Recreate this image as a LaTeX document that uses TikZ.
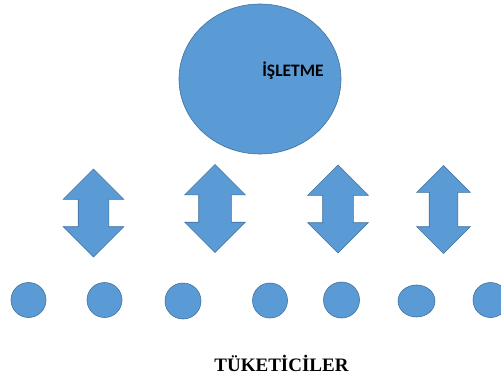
\documentclass[tikz,border=0pt]{standalone}
\usepackage{fontspec}
\setmainfont{Liberation Serif}
\newfontfamily\calibri{Carlito}
\usetikzlibrary{shapes.geometric,shapes.arrows}
\definecolor{officeblue}{RGB}{91,155,213}
\definecolor{officeedge}{RGB}{65,113,156}
\begin{document}
\begin{tikzpicture}[x=1pt,y=-1pt,
	firm/.style = {draw=officeedge, fill=officeblue, line width=0.6pt, ellipse, minimum width=162pt, minimum height=150pt, inner sep=0pt},
	flow/.style = {draw=officeedge, fill=officeblue, line width=0.6pt, double arrow, shape border rotate=90, double arrow head extend=15pt, inner sep=15pt, minimum height=88pt},
	buyer/.style = {draw=officeedge, fill=officeblue, line width=0.6pt, circle, minimum size=35pt, inner sep=0pt}]
	\clip (0,0) rectangle (501,380);
	% firm
	\node[firm] (firm) at (260,79) {};
	\node[font=\calibri\bfseries\fontsize{17.5}{20}\selectfont] (firmname) at (293,71) {İŞLETME};
	% two-way flows
	\node[flow] (f1) at (93.5,213) {};
	\node[flow, inner sep=16pt, double arrow head extend=14pt] (f2) at (215,208.5) {};
	\node[flow] (f3) at (338,209) {};
	\node[flow, inner sep=14pt, double arrow head extend=12.5pt] (f4) at (443.5,209.5) {};
	% consumers
	\node[buyer] (c1) at (28.5,300) {};
	\node[buyer] (c2) at (104.5,300) {};
	\node[buyer, minimum size=36pt] (c3) at (183,301) {};
	\node[buyer] (c4) at (270,300.5) {};
	\node[buyer, minimum size=36pt] (c5) at (341.5,300) {};
	\node[buyer, ellipse, minimum width=37pt, minimum height=32pt] (c6) at (416.5,301) {};
	\node[buyer] (c7) at (490.5,300) {};
	\node[font=\bfseries\fontsize{19}{22}\selectfont] (crowd) at (281.5,363) {TÜKETİCİLER};
\end{tikzpicture}
\end{document}
